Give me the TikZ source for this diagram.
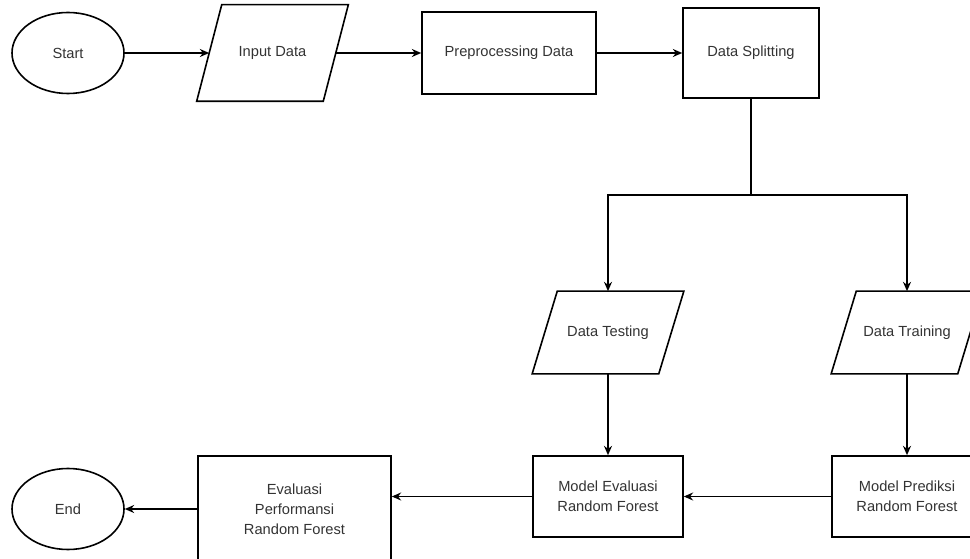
\documentclass[tikz,border=0pt]{standalone}
\usepackage{fontspec}
\setmainfont{Liberation Sans}
\usetikzlibrary{arrows.meta, shapes.geometric}

% parallelogram round a node: top edge shifted right, bottom edge shifted left
\newcommand{\slantbox}[1]{%
  \draw ([xshift=9.4pt]#1.north west) -- ([xshift=9.4pt]#1.north east)
  -- ([xshift=-9.4pt]#1.south east) -- ([xshift=-9.4pt]#1.south west) -- cycle;}

\begin{document}
\begin{tikzpicture} [x=0.75pt, y=-0.75pt, line width=1.2pt,
        box/.style = {text=black!80, font=\fontsize{11}{15}\selectfont, align=center, inner sep=0pt},
        terminal/.style = {box, draw, ellipse, minimum width=84pt, minimum height=60.75pt},
        io/.style = {box, rectangle, minimum width=93.75pt, minimum height=60.75pt},
        process/.style = {box, draw, rectangle, minimum width=112.5pt, minimum height=60.75pt},
        flow/.style = {-{Stealth[length=7pt, width=6pt]}}]
        \useasboundingbox (0,0) rectangle (970,559);

        \node (start) [terminal] at (68,53) {Start};
        \node (input) [io, minimum height=71.25pt] at (272.5,53) {Input Data};
        \node (prep) [process, minimum width=130.5pt, minimum height=61.5pt] at (509,53) {Preprocessing Data};
        \node (split) [process, minimum width=102pt, minimum height=67.5pt] at (751,53) {Data Splitting};
        \node (test) [io] at (608,332.5) {Data Testing};
        \node (train) [io] at (907,332.5) {Data Training};
        \node (meval) [process] at (608,496.5) {Model Evaluasi\\Random Forest};
        \node (mpred) [process] at (907,496.5) {Model Prediksi\\Random Forest};
        \node (perf)
        [process, minimum width=144.75pt, minimum height=79.5pt]
        at (294.5,509) {Evaluasi\\Performansi\\Random Forest};
        \node (end) [terminal] at (68,509) {End};
        \coordinate (fork) at (751,195);

        \slantbox{input}
        \slantbox{test}
        \slantbox{train}

        \path [flow]
        (start) edge (input)
        (input) edge (prep)
        (prep) edge (split)
        (test) edge (meval)
        (train) edge (mpred)
        (mpred) edge (meval)
        (perf) edge (end)
        ;
        \draw (split.south) -- (fork);
        \draw [flow] (fork) -| (test);
        \draw [flow] (fork) -| (train);
        \draw [flow] (meval.west) -- (meval.west -| perf.east);
    \end{tikzpicture}
\end{document}
